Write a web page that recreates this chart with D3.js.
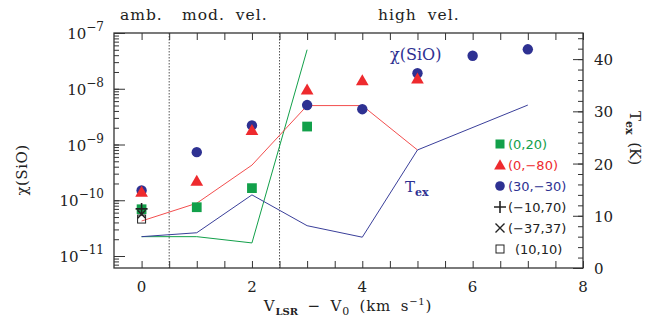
<!DOCTYPE html>
<html>
<head>
<meta charset="utf-8">
<script src="https://cdn.jsdelivr.net/npm/d3@7"></script>
<style>
  body { margin: 0; background: #fff; }
  svg text { font-family: "DejaVu Serif", serif; fill: #222; }
  .leg text { font-family: "DejaVu Sans", sans-serif; }
</style>
</head>
<body>
<div id="chart"></div>
<script>
// velocity channels (km/s)
const vel = [0, 1, 2, 3, 4, 5, 6, 7];

// SiO abundance per position
const sio3030 = [1.5e-10, 7.3e-10, 2.2e-9, 5.1e-9, 4.3e-9, 1.9e-8, 3.9e-8, 5.1e-8];
const sio080 = [1.4e-10, 2.2e-10, 1.8e-9, 9.6e-9, 1.4e-8, 1.5e-8];
const sio020 = [6.9e-11, 7.5e-11, 1.65e-10, 2.1e-9];
const sioPlus = [7.0e-11];   // (-10,70)
const sioCross = [5.6e-11];  // (-37,37)
const sioBox = [4.6e-11];    // (10,10)

// excitation temperature curves (K)
const texGreen = [6.0, 6.0, 4.8, 41.8];
const texRed = [9.0, 12.4, 19.7, 31.1, 31.1, 22.6];
const texBlueVel = [0, 1, 2, 3, 4, 5, 7];
const texBlue = [6.0, 6.75, 14.0, 8.1, 5.9, 22.6, 31.2];

const regionBounds = [0.5, 2.5];
const xTicks = [0, 2, 4, 6, 8];
const yDecades = [-11, -10, -9, -8, -7];
const texTicks = [0, 10, 20, 30, 40];

const colGreen = '#12a04a', colRed = '#ee2a2e', colBlue = '#2e3192';

const W = 662, H = 320;
const m = { left: 114, right: 79, top: 33, bottom: 52 };

const svg = d3.select('#chart').append('svg').attr('width', W).attr('height', H);

const x = d3.scaleLinear().domain([-0.5, 8]).range([m.left, W - m.right]);
const y = d3.scaleLog().domain([Math.pow(10, -11.215), 1e-7]).range([H - m.bottom, m.top]);
const yT = d3.scaleLinear().domain([0, 45]).range([H - m.bottom, m.top]);

const x0 = m.left, x1 = W - m.right, y0 = H - m.bottom, y1 = m.top;

// dotted region separators
svg.selectAll('.sep').data(regionBounds).enter().append('line')
  .attr('x1', d => x(d)).attr('x2', d => x(d))
  .attr('y1', y1).attr('y2', y0)
  .attr('stroke', '#555').attr('stroke-width', 1).attr('stroke-dasharray', '1.5,1.5');

// Tex lines
const lineOf = (xs, ys) => d3.line().x((d, i) => x(xs[i])).y(d => yT(d))(ys);
svg.append('path').attr('d', lineOf(vel, texGreen)).attr('fill', 'none').attr('stroke', colGreen).attr('stroke-width', 1);
svg.append('path').attr('d', lineOf(vel, texRed)).attr('fill', 'none').attr('stroke', '#f03a3a').attr('stroke-width', 0.9);
svg.append('path').attr('d', lineOf(texBlueVel, texBlue)).attr('fill', 'none').attr('stroke', '#3a3f9a').attr('stroke-width', 1);

// markers
const sq = d3.symbol().type(d3.symbolSquare).size(95);
const tri = d3.symbol().type(d3.symbolTriangle).size(70);
svg.selectAll('.c').data(sio3030).enter().append('circle')
  .attr('cx', (d, i) => x(vel[i])).attr('cy', d => y(d)).attr('r', 5.2).attr('fill', colBlue);
svg.selectAll('.t').data(sio080).enter().append('path')
  .attr('d', tri).attr('transform', (d, i) => `translate(${x(vel[i])},${y(d) + 1})`).attr('fill', colRed);
svg.selectAll('.s').data(sio020).enter().append('path')
  .attr('d', sq).attr('transform', (d, i) => `translate(${x(vel[i])},${y(d)})`).attr('fill', colGreen);
svg.selectAll('.b').data(sioBox).enter().append('rect')
  .attr('x', (d, i) => x(vel[i]) - 4).attr('y', d => y(d) - 4).attr('width', 8).attr('height', 8)
  .attr('fill', 'none').attr('stroke', '#222').attr('stroke-width', 1);
svg.selectAll('.x').data(sioCross).enter().append('path')
  .attr('d', 'M-4,-4L4,4M-4,4L4,-4')
  .attr('transform', (d, i) => `translate(${x(vel[i])},${y(d)})`).attr('stroke', '#222').attr('stroke-width', 1.5);
svg.selectAll('.p').data(sioPlus).enter().append('path')
  .attr('d', 'M-6,0H6M0,-6V6')
  .attr('transform', (d, i) => `translate(${x(vel[i])},${y(d)})`).attr('stroke', '#222').attr('stroke-width', 1.6);

// axes with inward ticks
const halfTicks = d3.range(0, 8.01, 0.5);
svg.append('g').attr('transform', `translate(0,${y0})`)
  .call(d3.axisTop(x).tickValues(halfTicks).tickSize(7).tickFormat(''));
svg.append('g').attr('transform', `translate(0,${y1})`)
  .call(d3.axisBottom(x).tickValues(halfTicks).tickSize(7).tickFormat(''));

const minorLog = [];
for (let e = -12; e < -7; e++) for (let k = 1; k < 10; k++) {
  const v = k * Math.pow(10, e);
  if (v >= y.domain()[0] && v <= 1e-7) minorLog.push(v);
}
svg.append('g').attr('transform', `translate(${x0},0)`)
  .call(d3.axisRight(y).tickValues(minorLog).tickSize(5).tickFormat(''));
svg.append('g').attr('transform', `translate(${x0},0)`)
  .call(d3.axisRight(y).tickValues(yDecades.map(e => Math.pow(10, e))).tickSize(11).tickFormat(''));

svg.append('g').attr('transform', `translate(${x1},0)`)
  .call(d3.axisLeft(yT).tickValues(d3.range(0, 45, 2)).tickSize(5).tickFormat(''));
svg.append('g').attr('transform', `translate(${x1},0)`)
  .call(d3.axisLeft(yT).tickValues(texTicks).tickSize(10).tickFormat(''));

svg.selectAll('.domain').remove();
svg.selectAll('.tick line').attr('stroke', '#333').attr('stroke-width', 1);

svg.append('rect').attr('x', x0).attr('y', y1).attr('width', x1 - x0).attr('height', y0 - y1)
  .attr('fill', 'none').attr('stroke', '#333').attr('stroke-width', 1.3);

// tick labels
svg.selectAll('.xl').data(xTicks).enter().append('text')
  .attr('x', d => x(d)).attr('y', y0 + 24).attr('text-anchor', 'middle')
  .attr('font-size', 15).text(d => d);

const yl = svg.selectAll('.yl').data(yDecades).enter().append('text')
  .attr('x', x0 - 10).attr('y', d => y(Math.pow(10, d)) + 6).attr('text-anchor', 'end')
  .attr('font-size', 15);
yl.append('tspan').text('10');
yl.append('tspan').attr('dy', -8).attr('font-size', 12).text(d => '\u2212' + (-d));

svg.selectAll('.tl').data(texTicks).enter().append('text')
  .attr('x', x1 + 11).attr('y', d => yT(d) + 6).attr('font-size', 15).text(d => d);

// axis titles
const xt = svg.append('text').attr('x', 348).attr('y', 311).attr('text-anchor', 'middle')
  .attr('font-size', 15).attr('letter-spacing', 0.8).attr('word-spacing', 4);
xt.append('tspan').text('V');
xt.append('tspan').attr('dy', 4).attr('font-size', 10).attr('font-weight', 'bold').attr('letter-spacing', 0).text('LSR');
xt.append('tspan').attr('dy', -4).text(' \u2212 V');
xt.append('tspan').attr('dy', 4).attr('font-size', 11).text('0');
xt.append('tspan').attr('dy', -4).text(' (km s');
xt.append('tspan').attr('dy', -6).attr('font-size', 10).text('\u22121');
xt.append('tspan').attr('dy', 6).text(')');

svg.append('text').attr('transform', 'translate(27,170) rotate(-90)')
  .attr('text-anchor', 'middle').attr('font-size', 15).attr('letter-spacing', 0.5).text('\u03c7(SiO)');

const rt = svg.append('text').attr('transform', 'translate(630,138) rotate(90)')
  .attr('text-anchor', 'middle').attr('font-size', 15).attr('word-spacing', 3);
rt.append('tspan').text('T');
rt.append('tspan').attr('dy', 4).attr('font-size', 11).attr('font-weight', 'bold').text('ex');
rt.append('tspan').attr('dy', -4).text(' (K)');

// region labels
const regionLabels = [['amb.', 120], ['mod. vel.', 182], ['high vel.', 378]];
regionLabels.forEach(([t, px]) => {
  svg.append('text').attr('x', px).attr('y', 20).attr('font-size', 15.5)
    .attr('letter-spacing', 1).attr('word-spacing', 5).text(t);
});

// in-plot labels
svg.append('text').attr('x', 390).attr('y', 60).attr('font-size', 16).style('fill', colBlue).text('\u03c7(SiO)');
const tx = svg.append('text').attr('x', 405).attr('y', 192).attr('font-size', 15).style('fill', colBlue);
tx.append('tspan').text('T');
tx.append('tspan').attr('dy', 4).attr('font-size', 11).attr('font-weight', 'bold').text('ex');

// legend
const legNames = ['(0,20)', '(0,\u221280)', '(30,\u221230)', '(\u221210,70)', '(\u221237,37)', '(10,10)'];
const legColors = [colGreen, colRed, colBlue, '#222', '#222', '#222'];
const legY0 = 144, legStep = 21;
const leg = svg.append('g').attr('class', 'leg');
legNames.forEach((name, i) => {
  const cy = legY0 + i * legStep, cx = 500;
  const g = leg.append('g').attr('transform', `translate(${cx},${cy})`);
  if (i === 0) g.append('rect').attr('x', -4.5).attr('y', -4.5).attr('width', 9).attr('height', 9).attr('fill', colGreen);
  if (i === 1) g.append('path').attr('d', d3.symbol().type(d3.symbolTriangle).size(60)).attr('transform', 'translate(0,1)').attr('fill', colRed);
  if (i === 2) g.append('circle').attr('r', 4.8).attr('fill', colBlue);
  if (i === 3) g.append('path').attr('d', 'M-6,0H6M0,-6V6').attr('stroke', '#222').attr('stroke-width', 1.6);
  if (i === 4) g.append('path').attr('d', 'M-4.5,-4.5L4.5,4.5M-4.5,4.5L4.5,-4.5').attr('stroke', '#222').attr('stroke-width', 1.4);
  if (i === 5) g.append('rect').attr('x', -4).attr('y', -4).attr('width', 8).attr('height', 8).attr('fill', 'none').attr('stroke', '#222');
  leg.append('text').attr('x', i === 5 ? 515 : 508).attr('y', cy + 5).attr('font-size', 13)
    .style('fill', legColors[i]).text(name);
});
</script>
</body>
</html>
